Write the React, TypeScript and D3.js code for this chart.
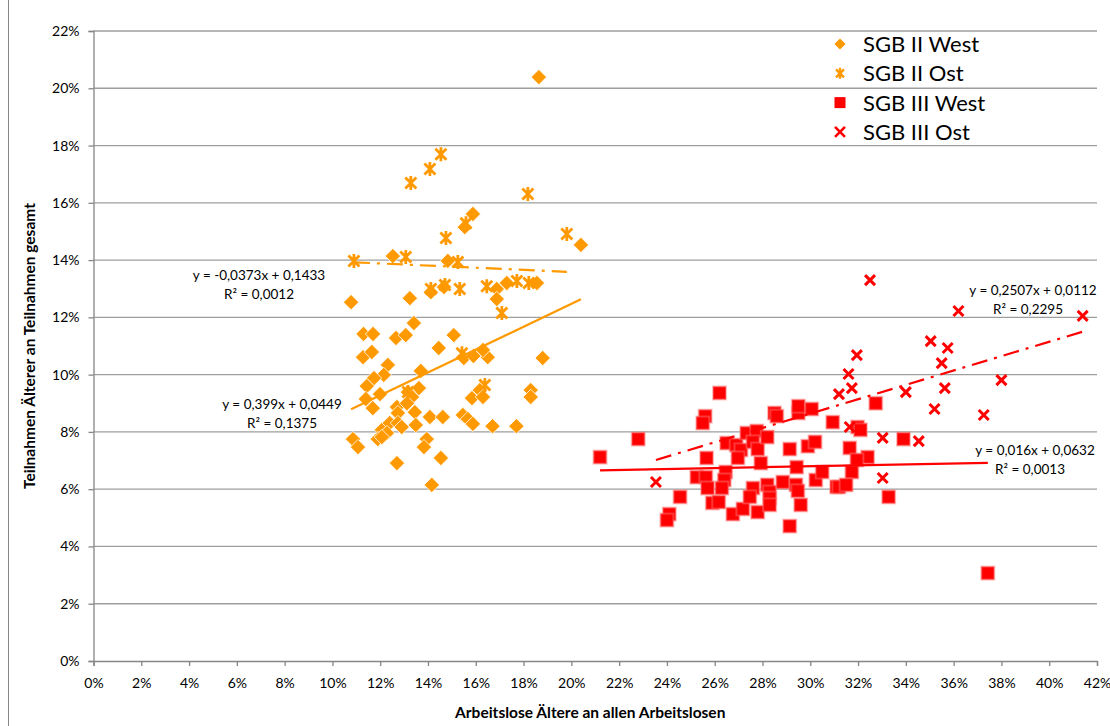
import { useEffect, useRef } from 'react'
import * as d3 from 'd3'

// values in percent: [Arbeitslose Ältere, Teilnahmen Älterer]
const sgb2West: [number, number][] = [
  [18.64, 20.39], [20.4, 14.53], [15.88, 15.61], [15.54, 15.15], [14.83, 13.97], [12.53, 14.14],
  [10.78, 12.53], [13.24, 12.67], [14.12, 12.88], [14.67, 13.06], [16.88, 12.99], [16.88, 12.64],
  [17.3, 13.2], [18.56, 13.2], [13.41, 11.8], [11.3, 11.42], [11.7, 11.42], [12.66, 11.28],
  [13.07, 11.38], [15.08, 11.38], [14.45, 10.93], [11.28, 10.61], [11.65, 10.79], [12.32, 10.34],
  [12.15, 9.99], [11.74, 9.88], [11.44, 9.6], [13.7, 10.13], [11.99, 9.32], [11.4, 9.15],
  [11.69, 8.83], [13.62, 9.53], [13.16, 9.39], [13.33, 9.22], [12.7, 8.87], [12.74, 8.66],
  [13.12, 9.0], [13.45, 8.69], [15.5, 10.58], [15.9, 10.65], [16.5, 10.61], [16.3, 10.86],
  [18.8, 10.58], [15.84, 9.18], [16.17, 9.46], [16.3, 9.22], [18.3, 9.46], [18.3, 9.22],
  [14.08, 8.52], [14.62, 8.52], [15.46, 8.59], [15.67, 8.45], [15.88, 8.28], [16.7, 8.2],
  [17.7, 8.2], [13.49, 8.24], [12.07, 8.07], [12.4, 8.31], [12.74, 8.31], [12.9, 8.17],
  [12.28, 7.96], [10.86, 7.75], [11.07, 7.47], [11.9, 7.75], [12.07, 7.82], [13.95, 7.75],
  [13.83, 7.47], [14.54, 7.09], [12.7, 6.91], [14.16, 6.15]
]

const sgb2Ost: [number, number][] = [
  [14.54, 17.7], [14.08, 17.18], [13.28, 16.69], [18.18, 16.31], [15.59, 15.29], [14.75, 14.77],
  [19.81, 14.91], [10.9, 13.97], [13.07, 14.11], [15.25, 13.93], [14.12, 12.99], [14.71, 13.13],
  [15.33, 12.99], [16.46, 13.09], [17.72, 13.27], [18.22, 13.2], [17.09, 12.15], [15.42, 10.75],
  [16.38, 9.64], [13.16, 9.39]
]

const sgb3West: [number, number][] = [
  [21.2, 7.12], [22.8, 7.75], [26.2, 9.36], [25.6, 8.55], [25.5, 8.31], [25.66, 7.09],
  [25.25, 6.42], [25.63, 6.42], [24.55, 5.73], [24.1, 5.13], [24.0, 4.92], [26.5, 7.61],
  [26.9, 7.54], [27.1, 7.37], [26.97, 7.09], [27.34, 7.96], [27.76, 8.03], [27.6, 7.65],
  [27.8, 7.4], [28.2, 7.82], [28.5, 8.66], [28.6, 8.55], [29.5, 8.66], [29.5, 8.9],
  [30.06, 8.8], [30.94, 8.34], [29.14, 7.4], [29.9, 7.5], [30.2, 7.65], [29.43, 6.77],
  [27.93, 6.91], [26.46, 6.6], [26.4, 6.32], [25.7, 6.04], [26.3, 6.04], [25.9, 5.52],
  [26.17, 5.55], [26.76, 5.13], [27.18, 5.31], [27.8, 5.2], [27.6, 6.04], [27.47, 5.73],
  [28.2, 6.15], [28.3, 5.9], [28.3, 5.69], [28.3, 5.45], [28.85, 6.25], [29.4, 6.15],
  [29.48, 5.94], [29.6, 5.45], [29.14, 4.71], [30.23, 6.32], [30.5, 6.6], [31.1, 6.08],
  [32.74, 9.0], [31.98, 8.17], [32.1, 8.07], [31.65, 7.44], [32.4, 7.12], [31.95, 7.02],
  [33.9, 7.75], [31.74, 6.6], [31.2, 6.08], [31.5, 6.15], [33.28, 5.73], [37.43, 3.07]
]

const sgb3Ost: [number, number][] = [
  [32.5, 13.3], [36.2, 12.22], [41.4, 12.05], [35.04, 11.17], [35.75, 10.93], [31.95, 10.68],
  [35.5, 10.4], [31.6, 10.02], [31.74, 9.53], [31.2, 9.32], [34.0, 9.39], [35.63, 9.53],
  [38.0, 9.81], [35.2, 8.8], [37.26, 8.59], [31.65, 8.17], [33.03, 7.79], [34.54, 7.68],
  [33.03, 6.39], [23.54, 6.25]
]

const xTicks = d3.range(0, 43, 2)
const yTicks = d3.range(0, 23, 2)

const legendLabels = ['SGB II West', 'SGB II Ost', 'SGB III West', 'SGB III Ost']

// trend lines: slope, intercept (fractions), label lines
const trendSlopes = [0.399, -0.0373, 0.016, 0.2507]
const trendIntercepts = [0.0449, 0.1433, 0.0632, 0.0112]
const trendLabels = [
  ['y = 0,399x + 0,0449', 'R² = 0,1375'],
  ['y = -0,0373x + 0,1433', 'R² = 0,0012'],
  ['y = 0,016x + 0,0632', 'R² = 0,0013'],
  ['y = 0,2507x + 0,0112', 'R² = 0,2295']
]

const ORANGE = '#ff9900'
const RED = '#ff0000'
const FONT = 'Lato, "Open Sans", sans-serif'

export default function App() {
  const ref = useRef<SVGSVGElement>(null)

  useEffect(() => {
    document.body.style.margin = '0'
    if (!ref.current) return
    const svg = d3.select(ref.current)
    svg.selectAll('*').remove()

    const left = 93.5, right = 1097, top = 31, bottom = 661
    const x = d3.scaleLinear().domain([0, 42]).range([left, right])
    const y = d3.scaleLinear().domain([0, 22]).range([bottom, top])

    svg.append('rect').attr('width', 1110).attr('height', 726).attr('fill', '#fff')
    // chart border at the left
    svg.append('line').attr('x1', 8.5).attr('x2', 8.5).attr('y1', 0).attr('y2', 726)
      .attr('stroke', '#868686').attr('stroke-width', 1)

    // gridlines
    svg.append('g').selectAll('line').data(yTicks.filter(d => d > 0)).join('line')
      .attr('x1', left).attr('x2', right)
      .attr('y1', d => y(d)).attr('y2', d => y(d))
      .attr('stroke', '#9e9e9e').attr('stroke-width', 1.3)

    // axes
    const xAxis = svg.append('g').attr('transform', `translate(0,${bottom})`)
      .call(d3.axisBottom(x).tickValues(xTicks).tickFormat(d => `${d}%`).tickSize(5).tickPadding(12))
    const yAxis = svg.append('g').attr('transform', `translate(${left},0)`)
      .call(d3.axisLeft(y).tickValues(yTicks).tickFormat(d => `${d}%`).tickSize(5).tickPadding(9))
    ;[xAxis, yAxis].forEach(a => {
      a.select('.domain').attr('stroke', '#868686').attr('stroke-width', 1.3)
      a.selectAll('.tick line').attr('stroke', '#868686').attr('stroke-width', 1.3)
      a.selectAll('.tick text').attr('fill', '#000').style('font-family', FONT).style('font-size', '14px')
    })

    const plot = svg.append('g')

    // SGB II West: diamonds
    plot.append('g').selectAll('path').data(sgb2West).join('path')
      .attr('d', d3.symbol(d3.symbolDiamond2, 150)())
      .attr('transform', d => `translate(${x(d[0])},${y(d[1])})`)
      .attr('fill', ORANGE).attr('stroke', '#fff').attr('stroke-width', 0.8)

    // SGB II Ost: star (x + vertical bar)
    const star = (s: number) => `M${-s},${-s}L${s},${s}M${-s},${s}L${s},${-s}M0,${-s - 1.5}L0,${s + 1.5}`
    plot.append('g').selectAll('path').data(sgb2Ost).join('path')
      .attr('d', star(5.5))
      .attr('transform', d => `translate(${x(d[0])},${y(d[1])})`)
      .attr('fill', 'none').attr('stroke', ORANGE).attr('stroke-width', 2.8)

    // SGB III West: squares
    plot.append('g').selectAll('rect').data(sgb3West).join('rect')
      .attr('x', d => x(d[0]) - 6.5).attr('y', d => y(d[1]) - 6.5)
      .attr('width', 13).attr('height', 13)
      .attr('fill', RED).attr('stroke', 'rgba(255,120,120,0.45)').attr('stroke-width', 2)

    // SGB III Ost: crosses
    plot.append('g').selectAll('path').data(sgb3Ost).join('path')
      .attr('d', 'M-5,-5L5,5M-5,5L5,-5')
      .attr('transform', d => `translate(${x(d[0])},${y(d[1])})`)
      .attr('fill', 'none').attr('stroke', RED).attr('stroke-width', 3)

    // trend lines
    const seriesList = [sgb2West, sgb2Ost, sgb3West, sgb3Ost]
    const trendColors = [ORANGE, ORANGE, RED, RED]
    const trendDash = [null, '16,7,3,7', null, '16,7,3,7']
    seriesList.forEach((s, i) => {
      const [x0, x1] = d3.extent(s, d => d[0]) as [number, number]
      const fy = (v: number) => (trendSlopes[i] * v / 100 + trendIntercepts[i]) * 100
      plot.append('path')
        .datum([x0, x1])
        .attr('d', d3.line<number>().x(v => x(v)).y(v => y(fy(v))))
        .attr('fill', 'none').attr('stroke', trendColors[i]).attr('stroke-width', 2.2)
        .attr('stroke-dasharray', trendDash[i])
    })

    // trend line labels
    const labelPos = [[282, 409], [259, 280], [1035, 455], [1033, 295]]
    trendLabels.forEach((lines, i) => {
      lines.forEach((t, j) => {
        svg.append('text')
          .attr('x', labelPos[i][0] - (j === 1 ? (i >= 2 ? 5 : 0) : 0))
          .attr('y', labelPos[i][1] + j * 19)
          .attr('text-anchor', 'middle')
          .style('font-family', FONT).style('font-size', '13.5px').attr('fill', '#000')
          .text(t)
      })
    })

    // legend
    const legend = svg.append('g').attr('transform', 'translate(840,44)')
    legendLabels.forEach((label, i) => {
      const row = legend.append('g').attr('transform', `translate(0,${i * 29.3})`)
      if (i === 0) row.append('path').attr('d', d3.symbol(d3.symbolDiamond2, 80)()).attr('fill', ORANGE)
      if (i === 1) row.append('path').attr('d', star(4)).attr('fill', 'none').attr('stroke', ORANGE).attr('stroke-width', 2.4)
      if (i === 2) row.append('rect').attr('x', -5.5).attr('y', -5.5).attr('width', 11).attr('height', 11).attr('fill', RED)
      if (i === 3) row.append('path').attr('d', 'M-5,-5L5,5M-5,5L5,-5').attr('fill', 'none').attr('stroke', RED).attr('stroke-width', 2.6)
      row.append('text').attr('x', 23).attr('y', 8)
        .style('font-family', FONT).style('font-size', '22px').attr('fill', '#000')
        .text(label)
    })

    // axis titles
    svg.append('text')
      .attr('x', (left + right) / 2 - 5).attr('y', 718)
      .attr('text-anchor', 'middle')
      .style('font-family', FONT).style('font-size', '15.5px').style('font-weight', 'bold')
      .text('Arbeitslose Ältere an allen Arbeitslosen')
    svg.append('text')
      .attr('transform', `translate(35,${(top + bottom) / 2}) rotate(-90)`)
      .attr('text-anchor', 'middle')
      .style('font-family', FONT).style('font-size', '15.5px').style('font-weight', 'bold')
      .text('Teilnahmen Älterer an Teilnahmen gesamt')
  }, [])

  return <svg ref={ref} width={1110} height={726} style={{ display: 'block' }} />
}
